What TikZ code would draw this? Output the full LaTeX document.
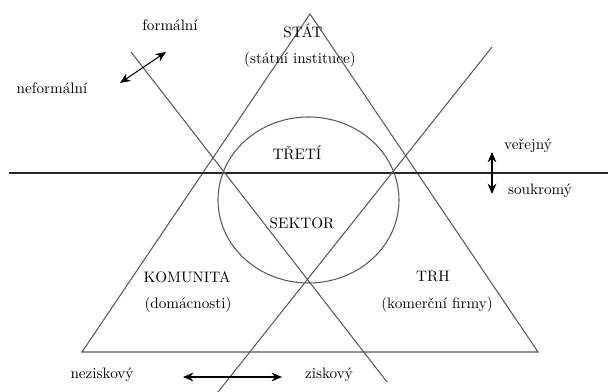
\documentclass[tikz,border=0pt]{standalone}
\usepackage{tikz}
\usetikzlibrary{arrows.meta}

\begin{document}
\begin{tikzpicture}[
    x=0.025cm, y=-0.025cm,
    every node/.style={font=\fontsize{10.8}{13}\selectfont, inner sep=1pt},
    thin line/.style={draw=black!65, line width=0.75pt},
    axis/.style={draw=black!85, line width=0.85pt},
    arrow/.style={{Stealth[length=2.6mm,width=2.2mm]}-{Stealth[length=2.6mm,width=2.2mm]}, line width=0.75pt}
]
    \useasboundingbox (0,0) rectangle (608,392);

    % Triangle corners
    \coordinate (top) at (310,14);
    \coordinate (left) at (82,352);
    \coordinate (right) at (538,352);
    \draw[thin line] (top) -- (left) -- (right) -- cycle;

    % Public / private divide
    \coordinate (h1) at (9,173);
    \coordinate (h2) at (608,173);
    \draw[axis] (h1) -- (h2);

    % Formal / informal and profit / non-profit divides
    \coordinate (d1a) at (131,52);
    \coordinate (d1b) at (387,382);
    \coordinate (d2a) at (492,47);
    \coordinate (d2b) at (218,392);
    \draw[thin line] (d1a) -- (d1b);
    \draw[thin line] (d2a) -- (d2b);

    % Third sector
    \coordinate (mid) at (308.5,200);
    \draw[thin line] (mid) ellipse [x radius=90.5, y radius=83];

    % Sector labels
    \node (stat) at (303,31) {STÁT};
    \node (statinst) at (300,60) {(státní instituce)};
    \node (treti) at (297,153) {TŘETÍ};
    \node (sektor) at (302,223) {SEKTOR};
    \node (komunita) at (187,277) {KOMUNITA};
    \node (domac) at (188,305) {(domácnosti)};
    \node (trh) at (433,276) {TRH};
    \node (firmy) at (437,305) {(komerční firmy)};

    % Axis labels
    \node (formal) at (170,25) {formální};
    \node (neformal) at (52,88) {neformální};
    \node (verejny) at (528,146) {veřejný};
    \node (soukromy) at (540,191) {soukromý};
    \node (nezisk) at (102,375) {neziskový};
    \node (zisk) at (329,375) {ziskový};

    % Arrows
    \coordinate (fa) at (120,83);
    \coordinate (fb) at (166,52);
    \coordinate (va) at (492,152);
    \coordinate (vb) at (492,194);
    \coordinate (za) at (183,377);
    \coordinate (zb) at (282,377);
    \draw[arrow] (fa) -- (fb);
    \draw[arrow] (va) -- (vb);
    \draw[arrow] (za) -- (zb);
\end{tikzpicture}
\end{document}
